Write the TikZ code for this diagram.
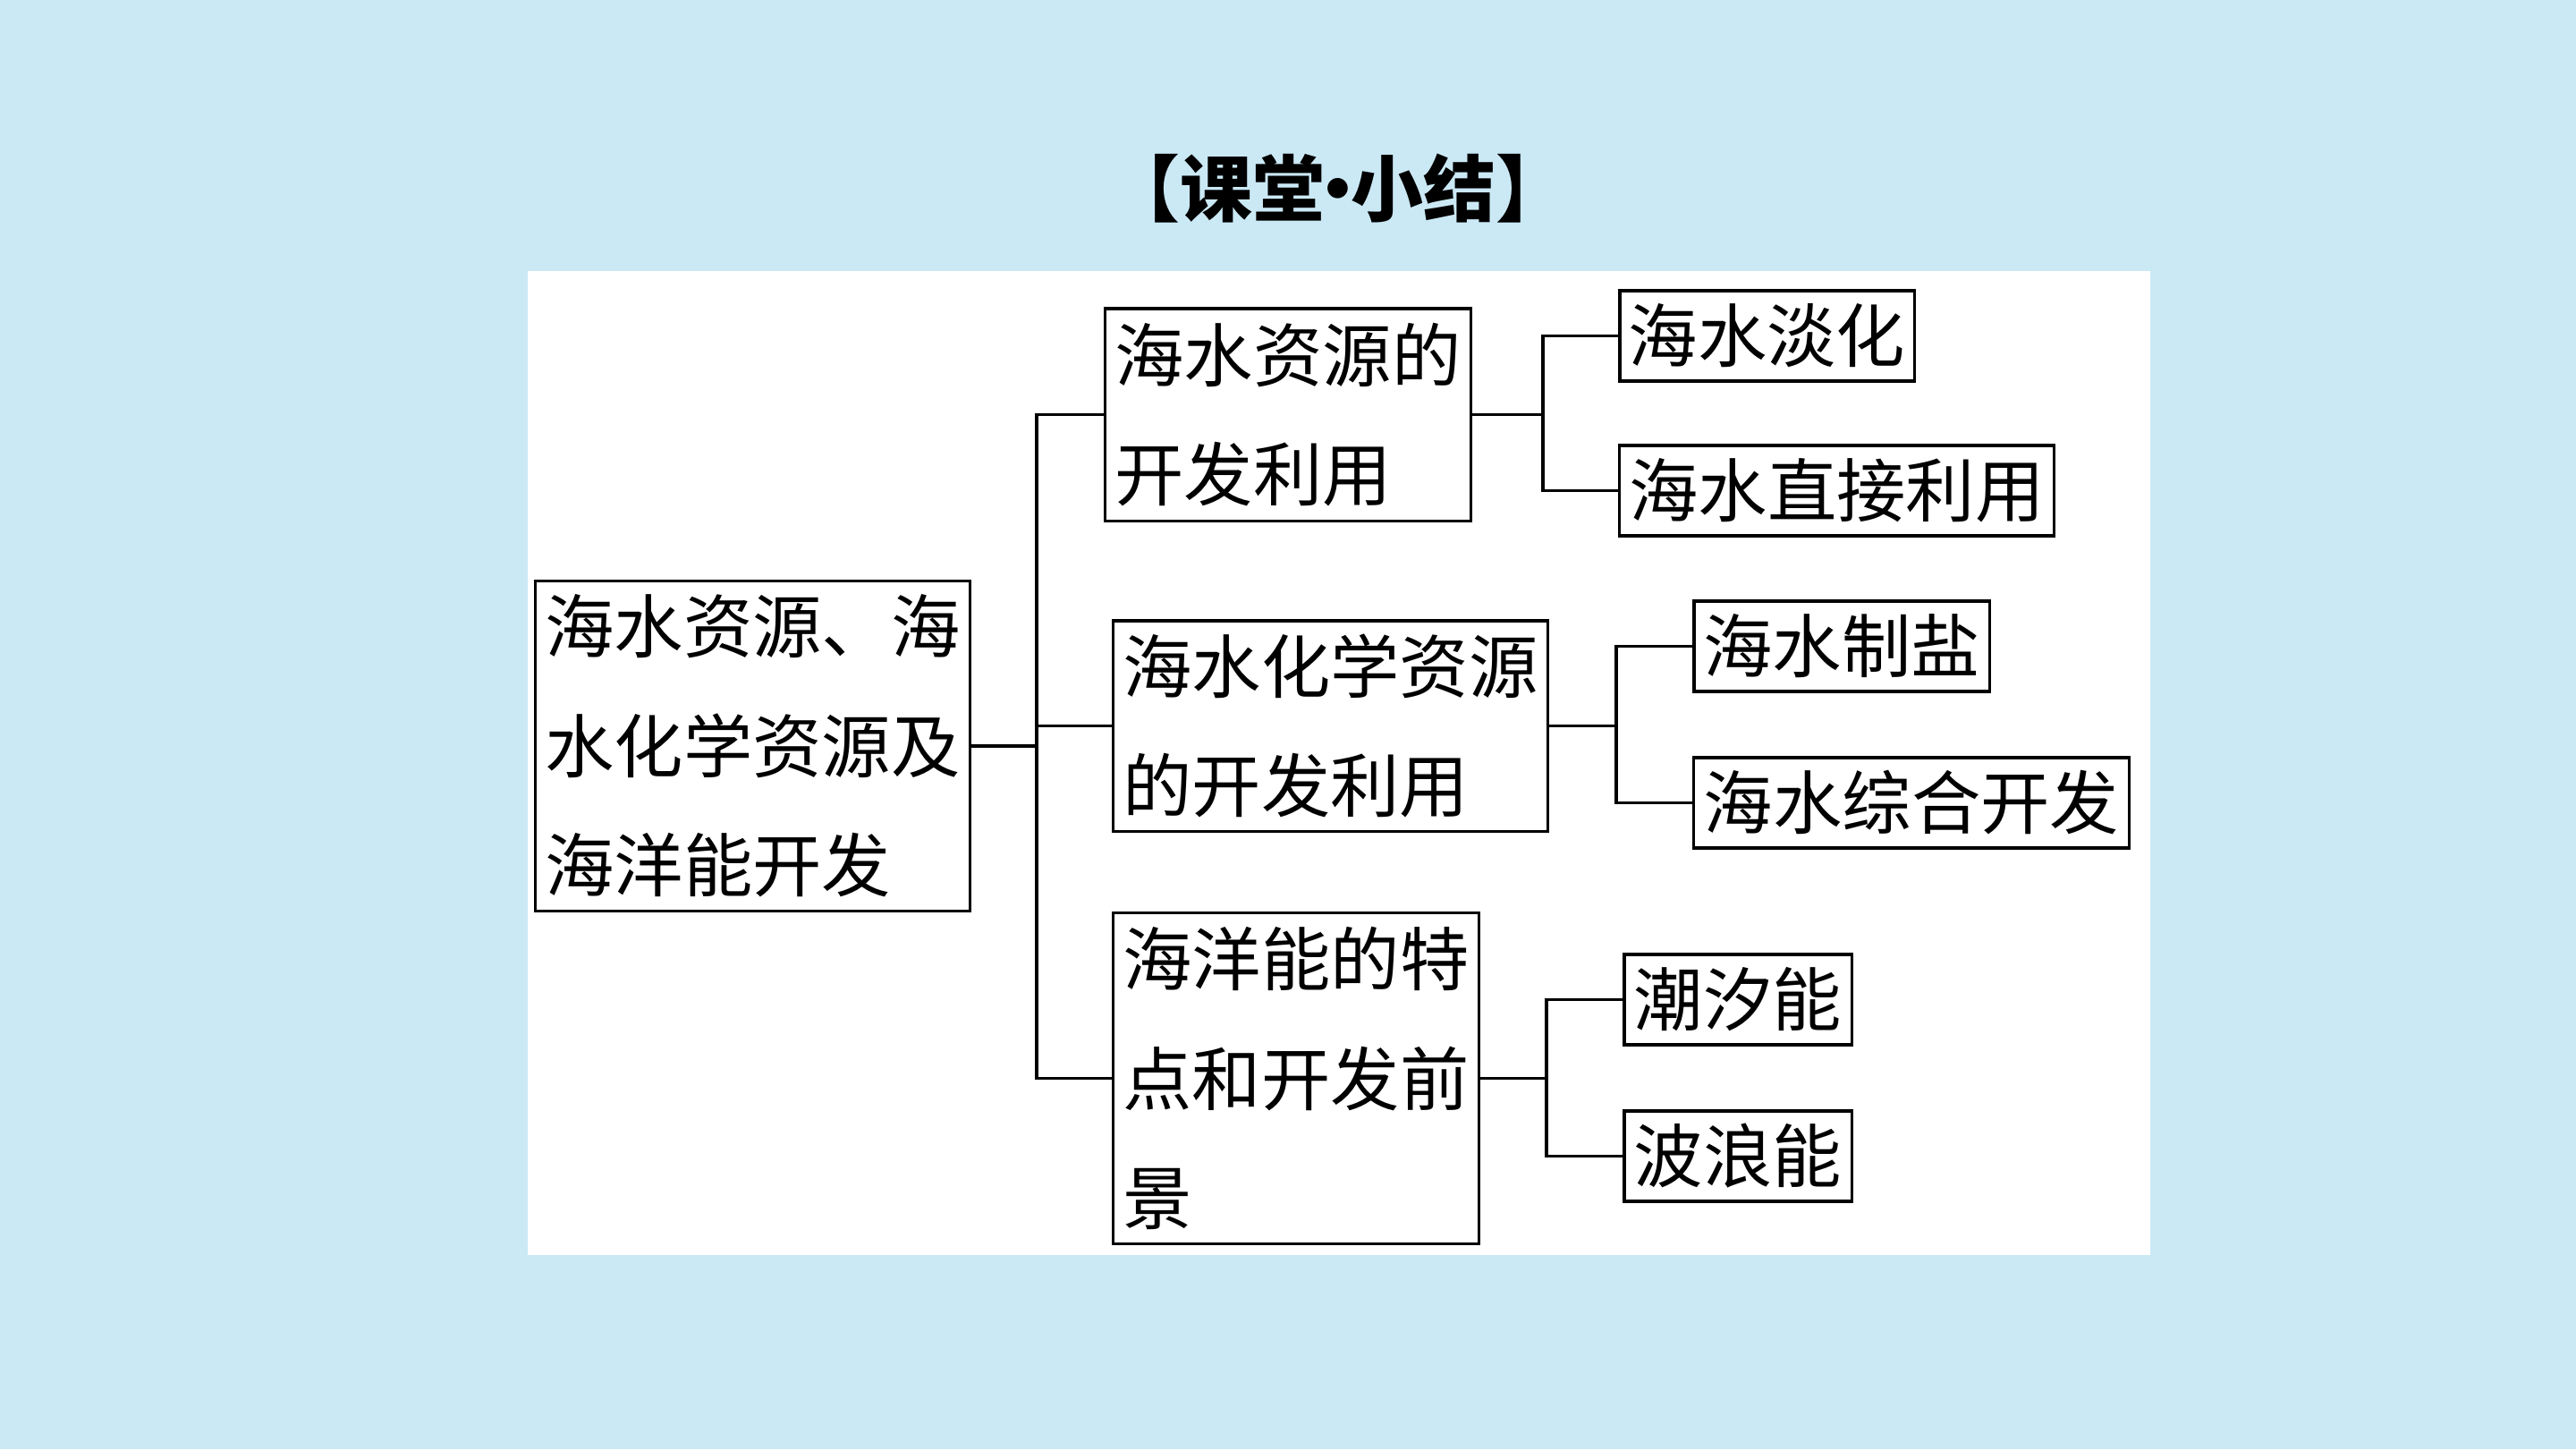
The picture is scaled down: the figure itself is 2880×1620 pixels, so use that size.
\documentclass[tikz,border=0pt]{standalone}
\usepackage{fontspec}
\newfontfamily\cjk{Noto Sans CJK SC}
\usetikzlibrary{positioning,calc}
\definecolor{bgblue}{RGB}{203,233,245}

\begin{document}
\begin{tikzpicture}[
  x=0.01cm, y=-0.01cm,
  font=\cjk\fontsize{22}{38}\selectfont,
  bx/.style={draw=black, line width=0.9pt, inner sep=0pt, align=left},
  lf/.style={draw=black, line width=0.9pt, inner sep=0pt, minimum height=1.01cm},
  ln/.style={draw=black, line width=1.1pt}]

% ===== page =====
\fill[bgblue] (0,0) rectangle (2880,1620);
\useasboundingbox (0,0) rectangle (2880,1620);
\fill[white] (590,303) rectangle (2404,1403);
\node (title) at (1496,211)
  {\bfseries\fontsize{23}{28}\selectfont 【课堂\kern-0.32em·\kern-0.32em小结】};

% ===== root (x=841) =====
\node[bx, minimum width=4.85cm, minimum height=3.68cm] (root) at (841.5,834)
  {海水资源、海\\水化学资源及\\海洋能开发};

% ===== topics (x=1440) =====
\node[bx, minimum width=4.08cm, minimum height=2.37cm] (sA) at (1440,463.5)
  {海水资源的\\开发利用};
\node[bx, minimum width=4.85cm, minimum height=2.35cm] (sB) at (1487.5,811.5)
  {海水化学资源\\的开发利用};
\node[bx, minimum width=4.08cm, minimum height=3.69cm] (sC) at (1449,1205.5)
  {海洋能的特\\点和开发前\\景};

% ===== leaves (x=1900) =====
\node[lf, minimum width=3.29cm] (a1) at (1975.5,375.5) {海水淡化};
\node[lf, minimum width=4.85cm] (a2) at (2053.5,548.5) {海水直接利用};
\node[lf, minimum width=3.30cm] (b1) at (2059,722.5)   {海水制盐};
\node[lf, minimum width=4.86cm] (b2) at (2137,897.5)   {海水综合开发};
\node[lf, minimum width=2.54cm] (c1) at (1943,1117.5)  {潮汐能};
\node[lf, minimum width=2.54cm] (c2) at (1943,1292.5)  {波浪能};

% ===== joints =====
\coordinate (j0) at ($(root.east)+(73,0)$);
\coordinate (jA) at ($(sA.east)+(79,0)$);
\coordinate (jB) at ($(sB.east)+(75,0)$);
\coordinate (jC) at ($(sC.east)+(74,0)$);

% ===== edges =====
\draw[ln] (root) -- (j0);
\draw[ln] (j0) |- (sA);
\draw[ln] (j0) |- (sB);
\draw[ln] (j0) |- (sC);
\draw[ln] (sA) -- (jA);
\draw[ln] (jA) |- (a1);
\draw[ln] (jA) |- (a2);
\draw[ln] (sB) -- (jB);
\draw[ln] (jB) |- (b1);
\draw[ln] (jB) |- (b2);
\draw[ln] (sC) -- (jC);
\draw[ln] (jC) |- (c1);
\draw[ln] (jC) |- (c2);

\end{tikzpicture}
\end{document}
